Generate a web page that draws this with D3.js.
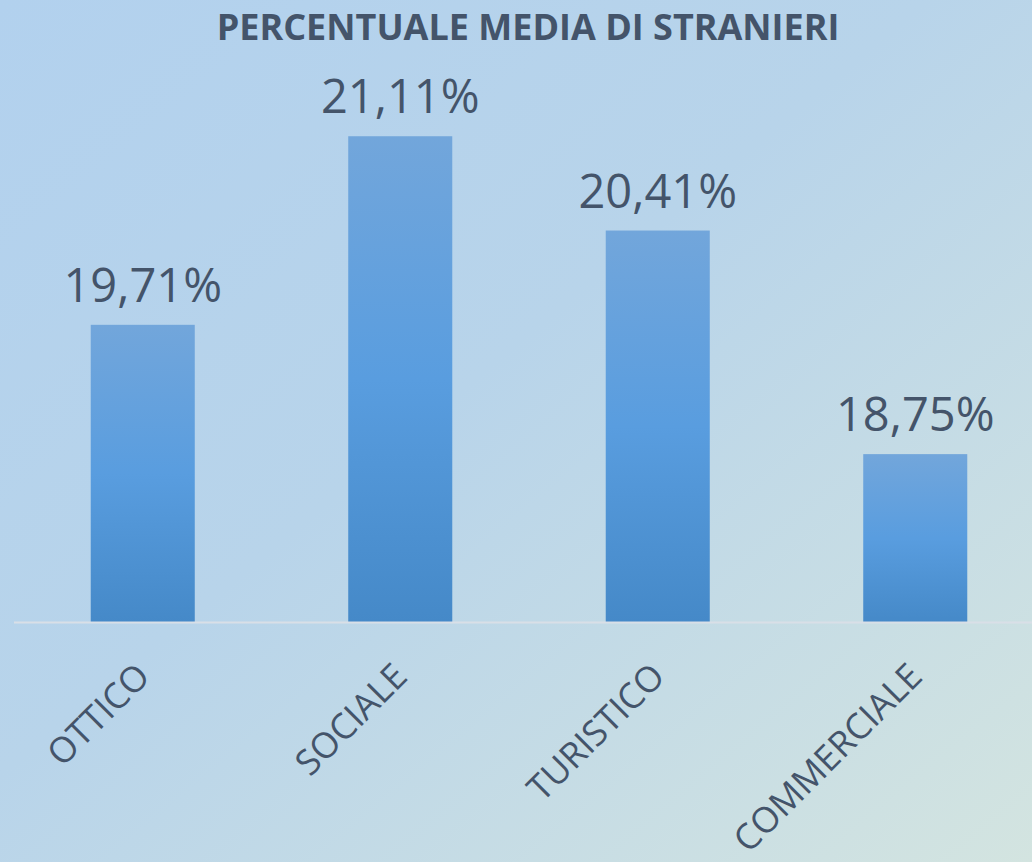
<!DOCTYPE html>
<meta charset="utf-8" />
<head>
  <style>
    body { margin: 0; padding: 0; overflow: hidden; }
    text { fill: #44546a; font-family: "Open Sans", "Noto Sans", sans-serif; }
    .title { font-weight: bold; font-size: 36px; }
    .value { font-size: 47px; }
    .cat { font-size: 35.5px; }
  </style>
  <script src="https://cdn.jsdelivr.net/npm/d3@7/dist/d3.min.js"></script>
</head>
<body>
<script>
  var categories = ["OTTICO", "SOCIALE", "TURISTICO", "COMMERCIALE"],
    values = [19.71, 21.11, 20.41, 18.75],
    valueLabels = ["19,71%", "21,11%", "20,41%", "18,75%"],
    yDomain = [17.5, 21.5],
    title = "PERCENTUALE MEDIA DI STRANIERI";

  var width = 1032,
    height = 862,
    baseY = 622.5;

  var svg = d3
    .select("body")
    .append("svg")
    .attr("width", width)
    .attr("height", height);

  var defs = svg.append("defs");

  var bg = defs
    .append("linearGradient")
    .attr("id", "bg")
    .attr("x1", "0").attr("y1", "0")
    .attr("x2", "1").attr("y2", "1");
  bg.append("stop").attr("offset", "0%").attr("stop-color", "#b2d1ee");
  bg.append("stop").attr("offset", "45%").attr("stop-color", "#b8d4ea");
  bg.append("stop").attr("offset", "100%").attr("stop-color", "#d3e4e0");

  var barGrad = defs
    .append("linearGradient")
    .attr("id", "bar")
    .attr("x1", "0").attr("y1", "0")
    .attr("x2", "0").attr("y2", "1");
  barGrad.append("stop").attr("offset", "0%").attr("stop-color", "#72a6db");
  barGrad.append("stop").attr("offset", "50%").attr("stop-color", "#599ddf");
  barGrad.append("stop").attr("offset", "100%").attr("stop-color", "#4589c8");

  svg
    .append("rect")
    .attr("width", width)
    .attr("height", height)
    .attr("fill", "url(#bg)");

  // band scale runs a bit past the right edge, like the cropped original
  var x = d3
    .scaleBand()
    .domain(categories)
    .range([14, 1044])
    .paddingInner(0.596)
    .paddingOuter(0.298);

  var y = d3
    .scaleLinear()
    .domain(yDomain)
    .range([baseY, baseY - 4 * 134.7]);

  svg
    .append("text")
    .attr("class", "title")
    .attr("x", 528)
    .attr("y", 40)
    .attr("text-anchor", "middle")
    .text(title);

  svg
    .selectAll("rect.bar")
    .data(values)
    .enter()
    .append("rect")
    .attr("class", "bar")
    .attr("x", function(d, i) { return x(categories[i]); })
    .attr("y", function(d) { return y(d); })
    .attr("width", x.bandwidth())
    .attr("height", function(d) { return baseY - y(d); })
    .attr("fill", "url(#bar)");

  svg
    .append("line")
    .attr("x1", 14)
    .attr("x2", width)
    .attr("y1", baseY)
    .attr("y2", baseY)
    .attr("stroke", "#d9dfe7")
    .attr("stroke-width", 2);

  svg
    .selectAll("text.value")
    .data(values)
    .enter()
    .append("text")
    .attr("class", "value")
    .attr("x", function(d, i) { return x(categories[i]) + x.bandwidth() / 2; })
    .attr("y", function(d) { return y(d) - 23; })
    .attr("text-anchor", "middle")
    .text(function(d, i) { return valueLabels[i]; });

  svg
    .selectAll("text.cat")
    .data(categories)
    .enter()
    .append("text")
    .attr("class", "cat")
    .attr("text-anchor", "end")
    .attr("transform", function(d) {
      var cx = x(d) + x.bandwidth() / 2 + 9;
      return "translate(" + cx + "," + (baseY + 56) + ") rotate(-45)";
    })
    .text(function(d) { return d; });
</script>
</body>
